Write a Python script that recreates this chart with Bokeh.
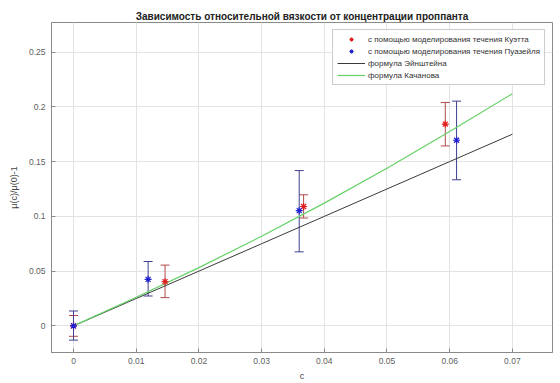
from bokeh.plotting import figure
from bokeh.models import (ColumnDataSource, Whisker, TeeHead, Legend, LegendItem,
                          Range1d, FixedTicker, Title)
from bokeh.embed import file_html
from bokeh.resources import INLINE

# Data
couette_c = [0.0, 0.0146, 0.0367, 0.0593]
couette_v = [0.0, 0.0404, 0.109, 0.1843]
couette_lo = [-0.0095, 0.0258, 0.0985, 0.1643]
couette_hi = [0.0095, 0.0555, 0.1197, 0.204]

poiseuille_c = [0.0, 0.0119, 0.0360, 0.0611]
poiseuille_v = [0.0, 0.0425, 0.1052, 0.1695]
poiseuille_lo = [-0.013, 0.0273, 0.0676, 0.1334]
poiseuille_hi = [0.0136, 0.0588, 0.1418, 0.2052]

line_c = [0.0, 0.01, 0.02, 0.03, 0.04, 0.05, 0.06, 0.07]
einstein_v = [0.0, 0.025, 0.05, 0.075, 0.1, 0.125, 0.15, 0.175]
kachanov_v = [0.0, 0.0262, 0.0532, 0.0818, 0.1121, 0.1439, 0.1775, 0.212]

x_ticks = [0, 0.01, 0.02, 0.03, 0.04, 0.05, 0.06, 0.07]
x_tick_labels = ["0", "0.01", "0.02", "0.03", "0.04", "0.05", "0.06", "0.07"]
y_ticks = [0, 0.05, 0.1, 0.15, 0.2, 0.25]
y_tick_labels = ["0", "0.05", "0.1", "0.15", "0.2", "0.25"]

title_text = "Зависимость относительной вязкости от концентрации проппанта"
legend_labels = ["с помощью моделирования течения Куэтта",
                 "с помощью моделирования течения Пуазейля",
                 "формула Эйнштейна",
                 "формула Качанова"]

FONT = "Liberation Sans"

p = figure(width=560, height=383, output_backend="svg", toolbar_location=None,
           x_range=Range1d(-0.00351, 0.0764), y_range=Range1d(-0.0243, 0.277),
           min_border_left=51, min_border_right=8, min_border_top=22,
           min_border_bottom=31)
p.title = Title(text=title_text, align="center", text_font=FONT,
                text_font_size="10px", text_font_style="bold",
                text_color="#222222", standoff=2)
p.background_fill_color = "white"
p.outline_line_color = "#8a8a8a"
p.outline_line_width = 1

# Axes
for ax in (p.xaxis[0], p.yaxis[0]):
    ax.axis_line_color = "#8a8a8a"
    ax.major_tick_line_color = "#8a8a8a"
    ax.major_tick_in = 4
    ax.major_tick_out = 0
    ax.minor_tick_line_color = None
    ax.major_label_text_font = FONT
    ax.major_label_text_font_size = "8.5px"
    ax.major_label_text_color = "#606060"
    ax.axis_label_text_font = FONT
    ax.axis_label_text_font_size = "9px"
    ax.axis_label_text_font_style = "normal"
    ax.axis_label_text_color = "#444444"

p.xaxis.ticker = FixedTicker(ticks=x_ticks)
p.xaxis.major_label_overrides = dict(zip(x_ticks, x_tick_labels))
p.yaxis.ticker = FixedTicker(ticks=y_ticks)
p.yaxis.major_label_overrides = dict(zip(y_ticks, y_tick_labels))
p.xaxis.axis_label = "c"
p.yaxis.axis_label = "μ(c)/μ(0)-1"
p.xaxis.major_label_standoff = 5
p.xaxis.axis_label_standoff = 4
p.yaxis.major_label_standoff = 6
p.yaxis.axis_label_standoff = 7

p.xgrid.grid_line_color = "#e3e3e3"
p.ygrid.grid_line_color = "#e3e3e3"

# Lines
l_ein = p.line(line_c, einstein_v, line_color="#3a3a3a", line_width=1)
l_kac = p.line(line_c, kachanov_v, line_color="#66d166", line_width=1.2)

# Error bars
src_c = ColumnDataSource(dict(x=couette_c, y=couette_v, lo=couette_lo, hi=couette_hi))
src_p = ColumnDataSource(dict(x=poiseuille_c, y=poiseuille_v, lo=poiseuille_lo, hi=poiseuille_hi))

for src, col in ((src_c, "#b24a4a"), (src_p, "#3f3f8f")):
    w = Whisker(source=src, base="x", lower="lo", upper="hi", dimension="height",
                line_color=col, line_width=1,
                upper_head=TeeHead(size=9, line_color=col, line_width=1),
                lower_head=TeeHead(size=9, line_color=col, line_width=1))
    p.add_layout(w)

m_c = p.scatter("x", "y", source=src_c, marker="asterisk", size=7,
                line_color="#e02020", line_width=1.2)
m_p = p.scatter("x", "y", source=src_p, marker="asterisk", size=7,
                line_color="#2020d0", line_width=1.2)

legend = Legend(items=[LegendItem(label=legend_labels[0], renderers=[m_c]),
                       LegendItem(label=legend_labels[1], renderers=[m_p]),
                       LegendItem(label=legend_labels[2], renderers=[l_ein]),
                       LegendItem(label=legend_labels[3], renderers=[l_kac])],
                location="top_right")
legend.label_text_font = FONT
legend.label_text_font_size = "8px"
legend.label_text_color = "#333333"
legend.glyph_width = 28
legend.glyph_height = 10
legend.label_height = 10
legend.label_standoff = 3
legend.spacing = 2
legend.padding = 4
legend.margin = 7
legend.border_line_color = "#9a9a9a"
legend.border_line_width = 1
legend.background_fill_alpha = 1
p.add_layout(legend)

open("out.html", "w").write(file_html(p, INLINE))
